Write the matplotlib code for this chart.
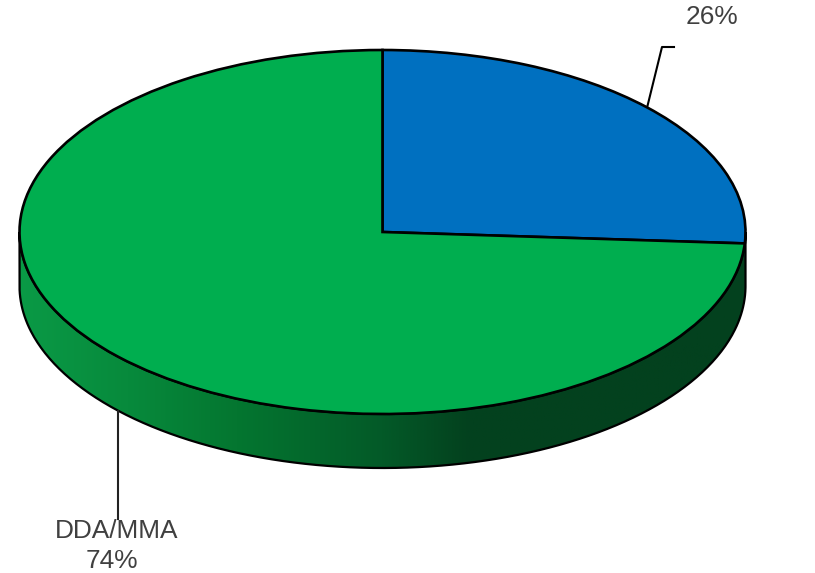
import numpy as np
import matplotlib
matplotlib.use('Agg')
import matplotlib.pyplot as plt
from matplotlib.path import Path
from matplotlib.patches import PathPatch

plt.rcParams['font.family'] = ['Liberation Sans', 'DejaVu Sans']

# chart data
labels = ['', 'DDA/MMA']
shares = [26, 74]
colors = ['#0070C0', '#00AE4F']

# side wall shading, left to right
side_stops = [0.0, 0.15, 0.30, 0.50, 0.62, 1.0]
side_colors = ['#0A9A46', '#078A3C', '#047630', '#035A28', '#03411E', '#03411E']

# pixel layout of the reference
W, H = 815, 573
cx, cy, rx, ry = 382.5, 232.0, 363.0, 182.0
depth = 54.0 / ry
text_color = '#404040'


def px(x, y):
    return (x - cx) / rx, (cy - y) / ry


def rim(deg, drop=0.0):
    t = np.radians(deg)
    return np.sin(t), np.cos(t) - drop


fig = plt.figure(figsize=(W / 100, H / 100), dpi=100)
ax = fig.add_axes([0, 0, 1, 1])

# side wall
t = np.linspace(90, 270, 300)
top_x, top_y = rim(t)
bot_x, bot_y = rim(t, depth)
verts = np.vstack([np.column_stack([top_x, top_y]),
                   np.column_stack([bot_x, bot_y])[::-1],
                   [[top_x[0], top_y[0]]]])
side = Path(verts)
xs = np.linspace(0, 1, 512)
rgb = np.array([matplotlib.colors.to_rgb(c) for c in side_colors])
grad = np.column_stack([np.interp(xs, side_stops, rgb[:, i]) for i in range(3)])
im = ax.imshow(grad[None, :, :], extent=(-1, 1, -1 - depth, 0.05), aspect='auto', zorder=1)
im.set_clip_path(PathPatch(side, transform=ax.transData))
ax.add_patch(PathPatch(side, facecolor='none', edgecolor='black', lw=1.6, zorder=2))

# top face
ax.pie(shares, colors=colors, startangle=90, counterclock=False, radius=1,
       wedgeprops={'edgecolor': 'black', 'linewidth': 1.9, 'zorder': 3})

ax.set_aspect('auto')
ax.set_xlim(px(0, 0)[0], px(W, 0)[0])
ax.set_ylim(px(0, H)[1], px(0, 0)[1])
ax.axis('off')

# leader lines start at the middle of each slice
mid_blue = shares[0] / 2 * 3.6
mid_green = (shares[0] + shares[1] / 2) * 3.6
x0, y0 = rim(mid_blue)
x1, y1 = px(662, 47)
x2, y2 = px(674, 47)
ax.plot([x0, x1, x2], [y0, y1, y2], color='black', lw=1.5, zorder=2)
x0, y0 = rim(mid_green, depth)
x1, y1 = px(117, 519)
ax.plot([x0, x0], [y0, y1], color='#222222', lw=1.5, zorder=2)

fs = 18.9
tx, ty = px(712.3, 24)
ax.text(tx, ty, f'{labels[0]}{shares[0]}%', color=text_color, fontsize=fs,
        ha='center', va='baseline', zorder=5)
tx, ty = px(116.5, 538)
ax.text(tx, ty, labels[1], color=text_color, fontsize=fs, ha='center', va='baseline', zorder=5)
tx, ty = px(112.3, 568)
ax.text(tx, ty, f'{shares[1]}%', color=text_color, fontsize=fs, ha='center', va='baseline', zorder=5)

fig.savefig('out.png', dpi=100, facecolor='white')
